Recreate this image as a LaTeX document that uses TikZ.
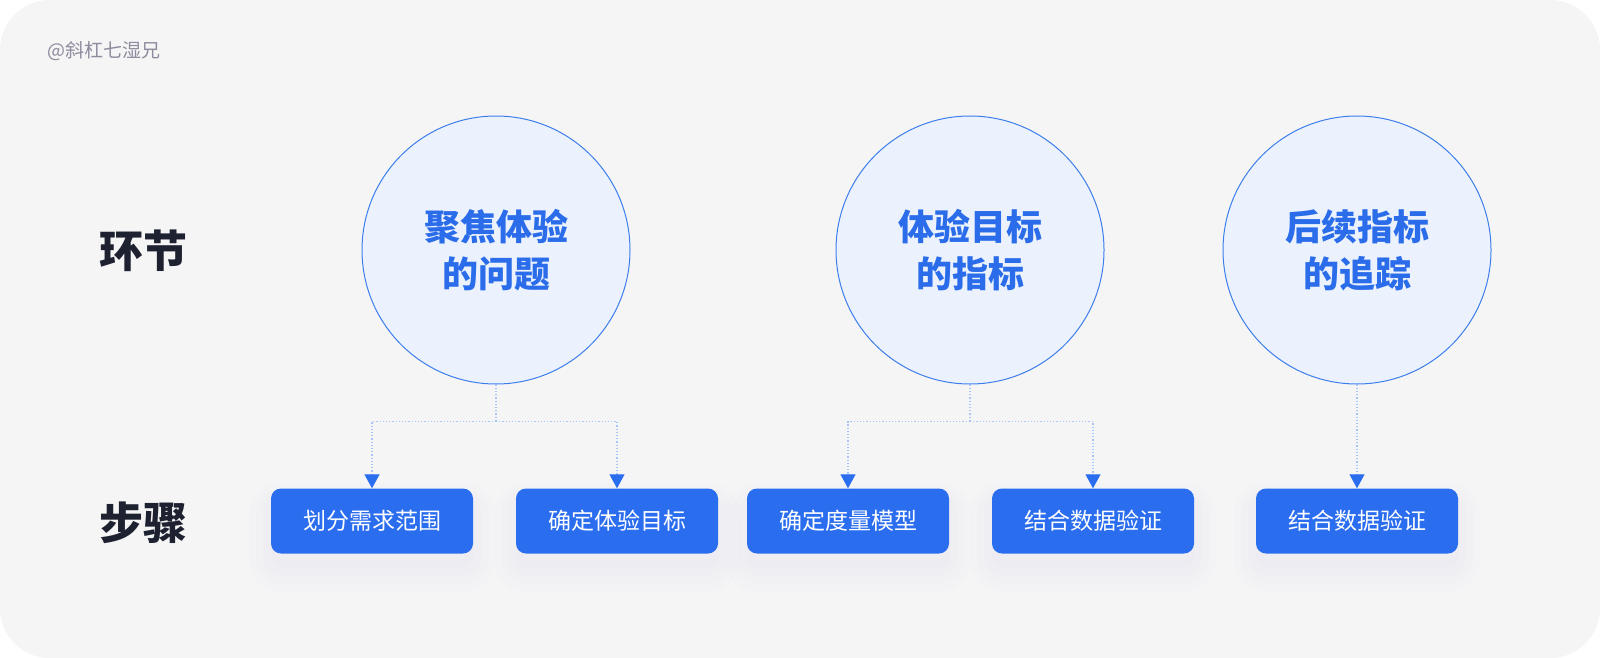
\documentclass[tikz,border=0pt]{standalone}
\usepackage{fontspec}
\setmainfont{Noto Sans CJK SC}
\newfontfamily\cjk{Noto Sans CJK SC}
\usetikzlibrary{arrows.meta}
\definecolor{pagebg}{HTML}{F5F5F6}
\definecolor{stepblue}{HTML}{2A6DEF}
\definecolor{ringfill}{HTML}{EBF2FD}
\definecolor{ringline}{HTML}{3D7EEB}
\definecolor{ringtext}{HTML}{2A6CE9}
\definecolor{rowtext}{HTML}{1E2230}
\definecolor{marktext}{HTML}{8E8C9E}
\definecolor{linkline}{HTML}{A8C3F5}
\definecolor{glow}{HTML}{B8B8E6}
\tikzset{
  stage/.style={circle, draw=ringline, fill=ringfill, line width=1pt,
    minimum size=268pt, inner sep=0pt, align=center, text=ringtext,
    font=\cjk\bfseries\fontsize{36}{47}\selectfont},
  stepbox/.style={rectangle, rounded corners=10pt, fill=stepblue,
    minimum width=202pt, minimum height=65pt, inner sep=0pt, text=white,
    font=\cjk\fontsize{23}{27}\selectfont,
    preaction={draw=glow, line width=44pt, draw opacity=0.025, transform canvas={yshift=-16pt}},
    preaction={draw=glow, line width=30pt, draw opacity=0.03, transform canvas={yshift=-15pt}},
    preaction={draw=glow, line width=16pt, fill=glow, opacity=0.035, transform canvas={yshift=-14pt}}},
  rowlabel/.style={text=rowtext, font=\cjk\bfseries\fontsize{44}{50}\selectfont},
  link/.style={draw=linkline, line width=1.2pt, dotted},
  arr/.style={-{Triangle[width=15pt,length=14pt,color=stepblue]}}
}
\begin{document}
\begin{tikzpicture}[x=1pt,y=-1pt]
  % page
  \fill[white] (0,0) rectangle (1600,658);
  \useasboundingbox (0,0) rectangle (1600,658);
  \fill[pagebg, rounded corners=50pt] (0,0) rectangle (1600,658);
  \node[anchor=west, text=marktext, font=\cjk\fontsize{19}{22}\selectfont] (mark) at (44,51) {@斜杠七湿兄};
  % row labels
  \node[rowlabel] (rowstage) at (143,251) {环节};
  \node[rowlabel] (rowstep) at (143,523) {步骤};
  % stages
  \node[stage] (c1) at (496,250) {聚焦体验\\的问题};
  \node[stage] (c2) at (970,250) {体验目标\\的指标};
  \node[stage] (c3) at (1357,250) {后续指标\\的追踪};
  % steps
  \node[stepbox] (b1) at (372,521) {划分需求范围};
  \node[stepbox] (b2) at (617,521) {确定体验目标};
  \node[stepbox] (b3) at (848,521) {确定度量模型};
  \node[stepbox] (b4) at (1093,521) {结合数据验证};
  \node[stepbox] (b5) at (1357,521) {结合数据验证};
  % links
  \path (c1.south) ++(0,37) coordinate (j1);
  \path (c2.south) ++(0,37) coordinate (j2);
  \draw[link] (c1.south) -- (j1);
  \draw[link, arr] (j1) -| (b1.north);
  \draw[link, arr] (j1) -| (b2.north);
  \draw[link] (c2.south) -- (j2);
  \draw[link, arr] (j2) -| (b3.north);
  \draw[link, arr] (j2) -| (b4.north);
  \draw[link, arr] (c3.south) -- (b5.north);
\end{tikzpicture}
\end{document}
